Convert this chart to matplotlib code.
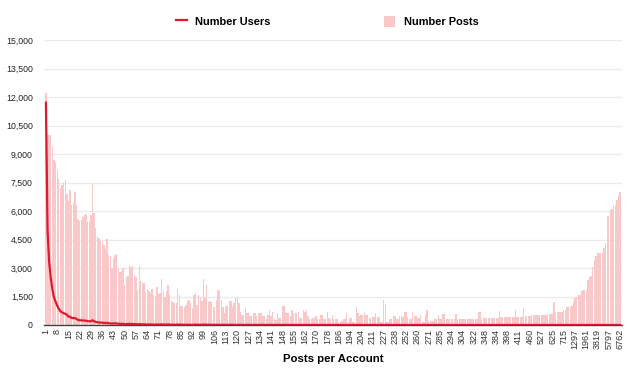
import matplotlib
matplotlib.use("Agg")
import matplotlib.pyplot as plt
from matplotlib.lines import Line2D
from matplotlib.patches import Patch
from matplotlib.ticker import FuncFormatter

plt.rcParams['font.family'] = ['Liberation Sans', 'DejaVu Sans']

# tick labels shown under every 7th category
tick_labels = ['1', '8', '15', '22', '29', '36', '43', '50', '57', '64', '71', '78',
               '85', '92', '99', '106', '113', '120', '127', '134', '141', '148',
               '155', '162', '170', '178', '186', '194', '204', '211', '227', '238',
               '252', '260', '271', '285', '294', '304', '322', '348', '384', '398',
               '411', '460', '527', '625', '715', '1297', '1961', '3819', '5797', '6762']

# total posts per category
posts = [
    12200, 10000, 10000, 10000, 9400, 8700, 8600, 8150, 7700, 7200, 7350, 7450, 7650, 6900,
    6550, 7100, 6300, 6400, 7000, 6300, 5600, 5500, 5550, 5700, 5800, 5850, 5400, 5450,
    5800, 7500, 5900, 5100, 4700, 4600, 4400, 4350, 4200, 4000, 4550, 3700, 3650, 3000,
    3550, 3700, 3750, 2950, 2800, 2850, 3000, 2100, 2550, 2600, 3150, 3050, 3100, 2650,
    2550, 1850, 3100, 2300, 2250, 2200, 1750, 1900, 1800, 1700, 1900, 1600, 1550, 2000,
    1650, 1700, 2400, 1800, 1500, 1800, 2100, 1600, 1250, 1200, 1150, 1150, 1900, 1600,
    1000, 1000, 950, 1050, 1250, 1300, 1150, 900, 1600, 1700, 1050, 1600, 1500, 1250,
    2400, 1400, 2100, 1200, 1250, 1200, 950, 950, 1300, 1850, 1800, 1300, 950, 650,
    1000, 1000, 1250, 1250, 950, 1150, 1400, 1450, 1150, 700, 550, 520, 880, 650,
    630, 480, 470, 640, 620, 470, 620, 650, 630, 470, 460, 290, 530, 790,
    470, 700, 290, 280, 630, 380, 370, 1000, 1000, 700, 620, 640, 470, 790,
    630, 620, 650, 700, 380, 390, 790, 700, 790, 500, 290, 290, 380, 380,
    470, 320, 320, 530, 520, 290, 290, 670, 380, 300, 530, 290, 290, 320,
    180, 180, 190, 320, 320, 630, 180, 380, 380, 180, 180, 930, 630, 470,
    530, 530, 630, 530, 530, 380, 380, 430, 430, 630, 430, 430, 180, 180,
    1310, 1130, 180, 180, 290, 290, 470, 470, 290, 290, 470, 470, 430, 700,
    700, 430, 290, 290, 700, 500, 500, 380, 380, 530, 180, 180, 530, 790,
    230, 230, 230, 230, 290, 290, 530, 290, 290, 580, 580, 290, 290, 290,
    290, 290, 290, 580, 290, 290, 290, 290, 290, 290, 290, 320, 320, 320,
    320, 320, 320, 670, 670, 320, 380, 380, 380, 380, 380, 380, 380, 380,
    380, 380, 760, 410, 410, 410, 410, 410, 410, 410, 410, 410, 790, 430,
    430, 430, 430, 880, 470, 500, 500, 500, 510, 510, 510, 520, 520, 530,
    530, 530, 530, 530, 580, 580, 590, 600, 1200, 670, 670, 670, 700, 700,
    790, 790, 930, 930, 1000, 1000, 1200, 1400, 1450, 1580, 1600, 1790, 1840, 1840,
    1850, 2370, 2540, 2600, 3070, 3420, 3650, 3770, 3780, 3790, 3800, 4070, 4300, 5730,
    5750, 6030, 6100, 6270, 6300, 6580, 6780, 7000,
]

# number of users per category
users = [
    11700, 5000, 3330, 2500, 1880, 1450, 1230, 1020, 850, 720, 670, 620, 590, 540,
    440, 440, 370, 360, 370, 315, 265, 250, 240, 240, 230, 225, 200, 195,
    200, 250, 190, 160, 142, 135, 126, 121, 114, 105, 117, 93, 89, 71,
    83, 84, 83, 64, 60, 59, 61, 42, 50, 50, 59, 56, 56, 47,
    45, 32, 53, 38, 37, 35, 28, 30, 28, 26, 28, 24, 22, 29,
    23, 24, 33, 24, 20, 24, 27, 21, 16, 15, 14, 14, 23, 19,
    12, 12, 11, 12, 14, 14, 13, 10, 17, 18, 11, 17, 15, 13,
    24, 14, 21, 12, 12, 11, 9, 9, 12, 17, 16, 12, 9, 6,
    9, 9, 11, 11, 8, 10, 12, 12, 9, 6, 4, 4, 7, 5,
    5, 4, 4, 5, 5, 4, 5, 5, 5, 3, 3, 2, 4, 6,
    3, 5, 2, 2, 4, 3, 3, 7, 7, 5, 4, 4, 3, 5,
    4, 4, 4, 4, 2, 2, 5, 4, 5, 3, 2, 2, 2, 2,
    3, 2, 2, 3, 3, 2, 2, 4, 2, 2, 3, 2, 2, 2,
    1, 1, 1, 2, 2, 3, 1, 2, 2, 1, 1, 5, 3, 2,
    3, 3, 3, 3, 3, 2, 2, 2, 2, 3, 2, 2, 1, 1,
    6, 5, 1, 1, 1, 1, 2, 2, 1, 1, 2, 2, 2, 3,
    3, 2, 1, 1, 3, 2, 2, 1, 1, 2, 1, 1, 2, 3,
    1, 1, 1, 1, 1, 1, 2, 1, 1, 2, 2, 1, 1, 1,
    1, 1, 1, 2, 1, 1, 1, 1, 1, 1, 1, 1, 1, 1,
    1, 1, 1, 2, 2, 1, 1, 1, 1, 1, 1, 1, 1, 1,
    1, 1, 2, 1, 1, 1, 1, 1, 1, 1, 1, 1, 2, 1,
    1, 1, 1, 2, 1, 1, 1, 1, 1, 1, 1, 1, 1, 1,
    1, 1, 1, 1, 1, 1, 1, 1, 2, 1, 1, 1, 1, 1,
    1, 1, 1, 1, 1, 1, 1, 1, 1, 1, 1, 1, 1, 1,
    1, 1, 1, 1, 1, 1, 1, 1, 1, 1, 1, 1, 1, 1,
    1, 1, 1, 1, 1, 1, 1, 1,
]

bar_color = '#f9c8c8'
line_color = '#e0192c'

x = list(range(len(posts)))

fig = plt.figure(figsize=(6.4, 3.76), dpi=100)
ax = fig.add_axes([44 / 640, 51 / 376, 578 / 640, 285 / 376])

ax.bar(x, posts, width=0.85, color=bar_color, linewidth=0, zorder=2)
ax.plot(x[:len(users)], users, color=line_color, linewidth=1.6, zorder=3)

ax.set_xlim(-1.2, len(posts) + 0.2)
ax.set_ylim(0, 15000)
ax.set_yticks(range(0, 15001, 1500))
ax.yaxis.set_major_formatter(FuncFormatter(lambda v, p: f"{int(v):,}"))
ax.grid(axis='y', color='#ebebeb', linewidth=1, zorder=0)
ax.set_axisbelow(True)

ax.set_xticks(x[::7])
ax.set_xticklabels(tick_labels, rotation=90, fontsize=6.5, color='#333333')
ax.tick_params(axis='y', labelsize=6.3, labelcolor='#222222', length=0, pad=8)
ax.tick_params(axis='x', length=0, pad=3)

for side in ['top', 'right', 'left']:
    ax.spines[side].set_visible(False)
ax.spines['bottom'].set_color('#444444')
ax.spines['bottom'].set_linewidth(1)

ax.set_xlabel('Posts per Account', fontsize=8.2, fontweight='bold', labelpad=3)

handles = [Line2D([0], [0], color=line_color, linewidth=1.6),
           Patch(facecolor=bar_color, edgecolor='none')]
fig.legend(handles, ['Number Users', 'Number Posts'], loc='upper center',
           bbox_to_anchor=(0.511, 0.985), ncol=2, frameon=False,
           prop={'weight': 'bold', 'size': 7.9}, handlelength=1.0,
           handleheight=1.3, handletextpad=0.8, columnspacing=10.3)

fig.savefig('out.png', dpi=100)
